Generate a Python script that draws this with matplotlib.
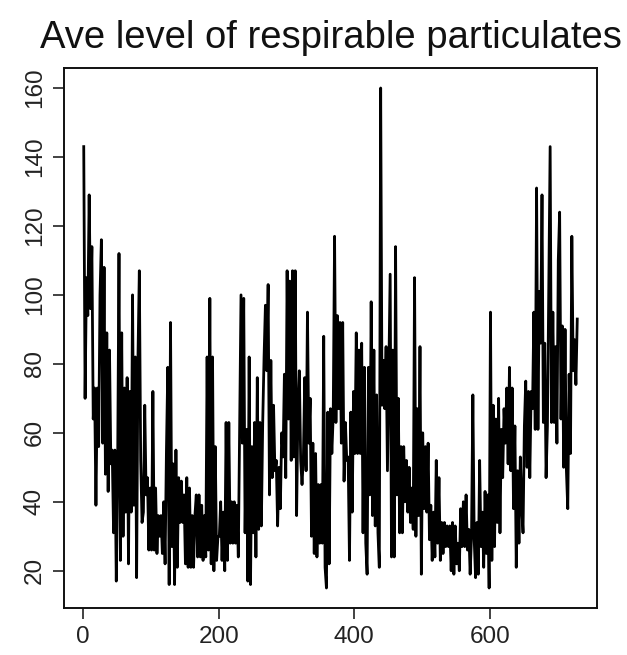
import numpy as np
import matplotlib
matplotlib.use("Agg")
import matplotlib.pyplot as plt

plt.rcParams['font.family'] = ['Liberation Sans', 'DejaVu Sans']

title = "Ave level of respirable particulates"

# day index (every second day)
days = list(range(1, 731, 2))

seg_a = [143, 70, 105, 94, 129, 96, 114, 64, 73, 39, 73, 56, 100, 116, 57, 108, 48, 89, 43, 84,
         51, 55, 31, 55, 17, 50, 112, 23, 89, 30, 73, 37, 76, 22, 72, 37, 100, 39, 82, 18,
         82, 107, 52, 34]
seg_b = [37, 68, 42, 47, 26, 44, 26, 72, 26, 44, 25, 36, 30, 36, 25, 40, 22, 55, 79, 16,
         92, 27, 51, 16, 55, 21, 47, 34, 46, 34, 42, 22, 47, 21, 44, 21, 36, 21, 36, 42,
         24, 42, 24, 39, 23, 36, 24, 82, 26, 99, 22, 82, 20, 56, 23, 30]
seg_c = [30, 40, 23, 37, 20, 63, 23, 63, 28, 40, 28, 40, 28, 39, 24, 63, 100, 57, 99, 31,
         61, 17, 82, 16, 56, 31, 63, 24, 76, 32, 63, 33, 63, 82, 97, 78, 103, 42, 81, 47,
         68, 49, 52, 33, 50, 38, 60, 53, 77, 47, 107, 64, 104, 52, 107, 53]
seg_d = [107, 36, 67, 78, 52, 45, 53, 76, 49, 95, 57, 70, 30, 57, 25, 54, 24, 45, 28, 45,
         28, 88, 21, 15, 66, 22, 67, 54, 65, 117, 63, 94, 67, 92, 57, 92, 46, 63, 52, 53,
         23, 66, 37, 72, 54, 89, 54, 84, 54, 86, 31, 79, 28, 19, 79, 42]
seg_e = [98, 36, 84, 33, 71, 31, 21, 160, 68, 81, 67, 85, 49, 78, 106, 24, 84, 24, 114, 42,
         70, 31, 56, 31, 56, 40, 52, 37, 50, 34, 44, 32, 105, 30, 67, 36, 85, 19, 60, 38,
         56, 37, 57, 29, 39, 23, 37, 24, 52, 28, 47, 23, 34, 25, 34, 27]
seg_f = [33, 27, 33, 20, 34, 19, 33, 22, 28, 20, 38, 27, 40, 27, 42, 26, 32, 19, 30, 71,
         29, 18, 34, 19, 52, 27, 37, 21, 43, 25, 42, 15, 95, 23, 68, 27, 64, 34, 70, 31,
         61, 47, 67, 57, 73, 51, 79, 49, 73, 38, 62, 21, 49, 28, 53, 39]
seg_g = [31, 62, 75, 50, 72, 47, 72, 67, 95, 61, 131, 61, 101, 86, 129, 63, 86, 47, 62, 102,
         143, 63, 95, 63, 85, 57, 110, 124, 64, 91, 50, 90, 49, 38, 77, 54, 117, 78, 87, 74,
         93]

values = seg_a + seg_b + seg_c + seg_d + seg_e + seg_f + seg_g

x_ticks = [0, 200, 400, 600]
y_ticks = [20, 40, 60, 80, 100, 120, 140, 160]

W, H = 627, 655
fig = plt.figure(figsize=(W / 100, H / 100), dpi=100)
ax = fig.add_axes([64 / W, 1 - 608 / H, (597 - 64) / W, (608 - 68) / H])

ax.plot(days, values, color='black', lw=2.0, solid_joinstyle='round')
ax.margins(x=0.04, y=0.04)

ax.set_xticks(x_ticks)
ax.set_yticks(y_ticks)
ax.set_xticklabels([str(v) for v in x_ticks])
ax.set_yticklabels([str(v) for v in y_ticks], rotation=90, va='center')
ax.tick_params(axis='both', direction='out', length=8, width=1.2, labelsize=17.5,
               colors='#222222', pad=5)
for s in ax.spines.values():
    s.set_linewidth(1.4)
    s.set_color('#111111')

fig.text((64 + 597) / 2 / W, 1 - 48 / H, title, ha='center', va='baseline',
         fontsize=27.5, color='#111111')

fig.savefig("out.png", dpi=100)
